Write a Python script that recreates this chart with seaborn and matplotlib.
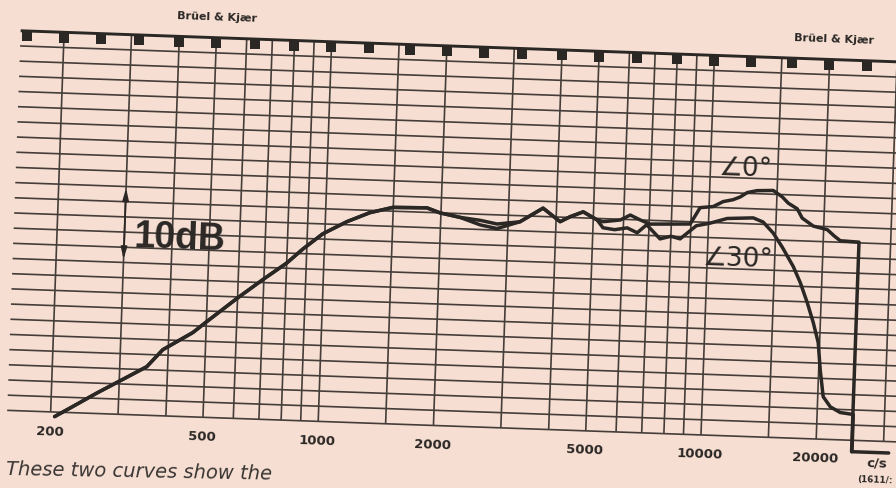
import matplotlib
matplotlib.use("Agg")
import matplotlib.pyplot as plt
import matplotlib.transforms as mtransforms
import pandas as pd
import seaborn as sns

# ---------------- data ----------------
freq_0deg = [205, 228, 263, 306, 353, 387, 462, 501, 598, 696, 801, 879, 988, 1138,
             1305, 1497, 1836, 1988, 2244, 2540, 2810, 3220, 3690, 4100, 4350, 4700,
             5120, 5310, 5880, 6240, 6630, 7040, 8960, 9480, 10250, 10870, 11540,
             12040, 12540, 13300, 14650, 15490, 16080, 16990, 17540, 18780, 20440,
             21340, 22150, 24800, 24800, 31000]
db_0deg = [-0.6, 0.8, 2.7, 4.6, 6.4, 8.7, 11.1, 12.6, 15.8, 18.4, 20.7, 22.6, 24.7, 26.4,
           27.7, 28.5, 28.6, 28.0, 27.5, 27.2, 26.8, 27.2, 29.1, 27.4, 28.1, 28.8,
           27.8, 27.6, 27.9, 28.6, 28.0, 27.5, 27.7, 29.9, 30.1, 30.8, 31.1,
           31.5, 32.1, 32.4, 32.5, 31.7, 30.9, 30.2, 29.0, 28.0, 27.6,
           26.8, 26.2, 26.1, -1.5, -1.5]

freq_30deg = [205, 228, 263, 306, 353, 387, 462, 501, 598, 696, 801, 879, 988, 1138,
              1305, 1497, 1836, 1988, 2244, 2540, 2810, 3220, 3690, 4100, 4350, 4700,
              5120, 5310, 5700, 6140, 6530, 6900, 7500, 8000, 8460, 9300, 10090,
              11180, 13070, 13880, 14780, 15650, 16790, 17580, 18410, 19170, 19830,
              20190, 20670, 21620, 22970, 24860, 24860]
db_30deg = [-0.6, 0.8, 2.7, 4.6, 6.4, 8.7, 11.1, 12.6, 15.8, 18.4, 20.7, 22.6, 24.7, 26.4,
            27.7, 28.5, 28.6, 28.0, 27.5, 26.6, 26.2, 27.2, 29.1, 27.4, 28.1, 28.8,
            27.8, 26.8, 26.6, 26.9, 26.3, 27.4, 25.6, 26.0, 25.7, 27.5, 27.9,
            28.6, 28.8, 28.3, 26.9, 25.1, 22.6, 20.5, 17.9, 15.3, 12.7,
            9.1, 5.6, 4.3, 3.6, 3.4, -1.5]

# chart paper: grid frequencies (c/s) and levels (dB)
grid_freqs = [200, 300, 400, 500, 600, 700, 800, 900, 1000, 1500, 2000, 3000, 4000,
              5000, 6000, 7000, 8000, 9000, 10000, 15000, 20000, 30000]
grid_db = [0, 2, 4, 6, 8, 10, 12, 14, 16, 18, 20, 22, 24, 26, 28, 30, 32, 34, 36, 38,
           40, 42, 44, 46, 48]
frame_db = [50]
sprocket_freqs = [160, 200, 250, 315, 400, 500, 630, 800, 1000, 1250, 1600, 2000, 2500,
                  3150, 4000, 5000, 6300, 8000, 10000, 12500, 16000, 20000, 25000, 31500]
tick_freqs = [200, 500, 1000, 2000, 5000, 10000, 20000]
tick_labels = ["200", "500", "1000", "2000", "5000", "10000", "20000"]

# ---------------- style ----------------
paper = "#f6dfd2"
ink = "#2b2725"
grid_ink = "#443d39"

sns.set_style("white")
plt.rcParams["font.family"] = ["DejaVu Sans"]

fig = plt.figure(figsize=(8.96, 4.88), dpi=100, facecolor=paper)
ax = fig.add_axes([0, 0, 1, 1])
ax.set_xscale("log")
ax.set_xlim(142.1, 31040)
ax.set_ylim(-8.18, 56.06)
ax.set_axis_off()

# the scanned chart is slightly rotated (clockwise)
rot = mtransforms.Affine2D().rotate_deg_around(448, 244, -2.03)
tr = ax.transData + rot

# paper grid
hl = ax.hlines(grid_db, 154, 40000, colors=grid_ink, lw=1.2, zorder=1)
vl = ax.vlines(grid_freqs, 0, 50, colors=grid_ink, lw=1.2, zorder=1)
fr = ax.hlines(frame_db, 154, 40000, colors=ink, lw=2.1, zorder=2)
for c in (hl, vl, fr):
    c.set_transform(tr)
sq = ax.scatter(sprocket_freqs, [49.3] * len(sprocket_freqs), marker="s", s=44,
                color=ink, linewidths=0, zorder=2)
sq.set_offset_transform(tr)

# response curves
df = pd.concat([
    pd.DataFrame({"freq": freq_0deg, "level": db_0deg, "angle": "0°"}),
    pd.DataFrame({"freq": freq_30deg, "level": db_30deg, "angle": "30°"}),
], ignore_index=True)
n_before = len(ax.lines)
sns.lineplot(data=df, x="freq", y="level", hue="angle", palette=[ink, ink],
             estimator=None, sort=False, legend=False, lw=2.5, ax=ax, zorder=3)
for ln in ax.lines[n_before:]:
    ln.set_transform(tr)
    ln.set_solid_joinstyle("round")
    ln.set_solid_capstyle("round")
ax.set_xlim(142.1, 31040)
ax.set_ylim(-8.18, 56.06)

# frequency labels
for f, lab in zip(tick_freqs, tick_labels):
    ax.text(f, -3.15, lab, ha="center", va="baseline", fontsize=9.5,
            fontweight="bold", color=ink, transform=tr, transform_rotates_text=True)
ax.text(29030, -3.4, "c/s", ha="center", va="baseline", fontsize=9.5,
        fontweight="bold", color=ink, transform=tr, transform_rotates_text=True)
ax.text(25800, -5.6, "(1611/:", ha="left", va="baseline", fontsize=6.3,
        fontweight="bold", color=ink, transform=tr, transform_rotates_text=True)

# 10 dB scale marker
ax.annotate("", xy=(300, 29.8), xytext=(300, 20.4), xycoords=tr, textcoords=tr,
            arrowprops=dict(arrowstyle="<|-|>,head_length=0.7,head_width=0.18",
                            color=ink, lw=1.3, shrinkA=0, shrinkB=0), zorder=4)
ax.text(419, 21.9, "10dB", ha="center", va="baseline", fontsize=27,
        fontweight="bold", family=["Liberation Sans", "DejaVu Sans"], color=ink,
        transform=tr, transform_rotates_text=True, zorder=4)

# curve labels
ax.text(12420, 34.2, "∠0°", ha="center", va="baseline", fontsize=19, color=ink,
        transform=tr, transform_rotates_text=True, zorder=4)
ax.text(12060, 22.2, "∠30°", ha="center", va="baseline", fontsize=19, color=ink,
        transform=tr, transform_rotates_text=True, zorder=4)

# printed paper brand and caption
fig.text(217 / 896, 1 - 22 / 488, "Brüel & Kjær", ha="center", va="baseline",
         fontsize=8, fontweight="bold", color=ink, rotation=-2)
fig.text(834 / 896, 1 - 44 / 488, "Brüel & Kjær", ha="center", va="baseline",
         fontsize=8, fontweight="bold", color=ink, rotation=-2)
fig.text(6 / 896, 1 - 480 / 488, "These two curves show the", ha="left",
         va="baseline", fontsize=14, style="italic", color="#3a3634", rotation=-1)

fig.savefig("out.png", dpi=100, facecolor=paper)
